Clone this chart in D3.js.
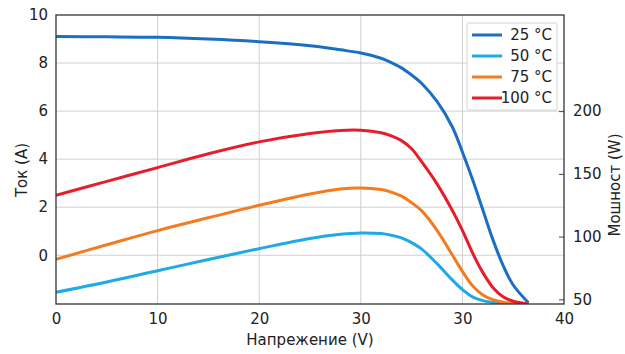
<!DOCTYPE html>
<html lang="ru">
<head>
<meta charset="utf-8">
<title>I-V / P-V</title>
<script src="https://cdn.jsdelivr.net/npm/d3@7"></script>
<style>
  body { margin: 0; background: #fff; }
  text { font-family: "DejaVu Sans", sans-serif; fill: #222; }
</style>
</head>
<body>
<script>
// voltage grid (underlying x units)
var volts = [0, 5, 10, 15, 20, 25, 28, 30, 32, 33, 34, 35, 36, 37.5, 39, 40, 41, 42, 43, 44, 45, 46.5];

// 25 °C - current, left axis (A)
var current25 = [9.1, 9.09, 9.07, 9.0, 8.89, 8.72, 8.55, 8.42, 8.2, 8.02, 7.8, 7.5, 7.15, 6.4, 5.35, 4.3, 3.15, 1.9, 0.65, -0.42, -1.24, -1.98];
// 50/75/100 °C - power, right axis (W)
var power50  = [55.6, 63.8, 72.8, 81.8, 90.4, 98.5, 101.8, 102.9, 102.4, 101.1, 99, 95.2, 90, 78.5, 65.5, 57.8, 52, 49, 47.5, 46.8, 46.4, 46.3];
var power75  = [81.9, 93.5, 104.8, 115, 125, 134, 138, 138.8, 137.5, 135.5, 132.3, 127, 120.5, 105, 85.5, 72.3, 60.8, 53.5, 49.8, 47.8, 47, 46.3];
var power100 = [133, 144, 155, 166, 175.5, 182.2, 184.6, 184.8, 182.8, 180.3, 176.5, 170, 159.5, 142, 121, 105, 87, 71.5, 59.5, 52, 48.5, 46.3];

var xTickValues = [0, 10, 20, 30, 40, 50];
var xTickLabels = ["0", "10", "20", "30", "30", "40"];
var leftTicks = [0, 2, 4, 6, 8, 10];
var rightTicks = [50, 100, 150, 200];
var legendLabels = ["25 °C", "50 °C", "75 °C", "100 °C"];
var colors = ["#1b6fc2", "#1fa9e6", "#f47b20", "#e61e2b"];

var w = 625, h = 354;
var m = {left: 56, right: 61, top: 15, bottom: 50};

var svg = d3.select("body").append("svg")
  .attr("width", w).attr("height", h);

var xScale = d3.scaleLinear().domain([0, 50]).range([m.left, w - m.right]);
var yLeft = d3.scaleLinear().domain([-2.03, 10]).range([h - m.bottom, m.top]);
var yRight = d3.scaleLinear().domain([46.3, 276.6]).range([h - m.bottom, m.top]);

var x0 = m.left, x1 = w - m.right, y0 = h - m.bottom, y1 = m.top;

// grid
svg.append("g").selectAll("line").data(xTickValues.slice(1, -1)).enter()
  .append("line")
  .attr("x1", d => xScale(d)).attr("x2", d => xScale(d))
  .attr("y1", y0).attr("y2", y1)
  .attr("stroke", "#cfcfcf").attr("stroke-width", 1);
svg.append("g").selectAll("line").data(leftTicks.slice(0, -1)).enter()
  .append("line")
  .attr("x1", x0).attr("x2", x1)
  .attr("y1", d => yLeft(d)).attr("y2", d => yLeft(d))
  .attr("stroke", "#cfcfcf").attr("stroke-width", 1);

// curves
svg.append("clipPath").attr("id", "plot")
  .append("rect").attr("x", x0).attr("y", y1).attr("width", x1 - x0).attr("height", y0 - y1);

var series = [
  {vals: current25, y: yLeft},
  {vals: power50, y: yRight},
  {vals: power75, y: yRight},
  {vals: power100, y: yRight}
];

var curves = svg.append("g").attr("clip-path", "url(#plot)");
series.forEach(function(s, i) {
  var line = d3.line()
    .x((d, j) => xScale(volts[j]))
    .y(d => s.y(d))
    .curve(d3.curveCatmullRom.alpha(0.5));
  curves.append("path")
    .attr("d", line(s.vals))
    .attr("fill", "none")
    .attr("stroke", colors[i])
    .attr("stroke-width", 3);
});

// axes
var xAxis = d3.axisBottom(xScale)
  .tickValues(xTickValues)
  .tickSize(0)
  .tickPadding(9)
  .tickFormat((d, i) => xTickLabels[i]);
var gx = svg.append("g").attr("transform", `translate(0,${y0})`).call(xAxis);

var yAxisL = d3.axisLeft(yLeft).tickValues(leftTicks).tickSize(0).tickPadding(8);
var gl = svg.append("g").attr("transform", `translate(${x0},0)`).call(yAxisL);

var yAxisR = d3.axisRight(yRight).tickValues(rightTicks).tickSize(-5).tickPadding(9);
var gr = svg.append("g").attr("transform", `translate(${x1},0)`).call(yAxisR);

[gx, gl, gr].forEach(function(g) {
  g.selectAll(".domain").remove();
  g.selectAll("text").style("font-size", "15px").style("font-family", "DejaVu Sans, sans-serif").attr("fill", "#222");
  g.selectAll("line").attr("stroke", "#444");
});

// frame
svg.append("rect")
  .attr("x", x0).attr("y", y1).attr("width", x1 - x0).attr("height", y0 - y1)
  .attr("fill", "none").attr("stroke", "#333").attr("stroke-width", 1.3);

// titles
svg.append("text")
  .attr("x", (x0 + x1) / 2).attr("y", 345)
  .attr("text-anchor", "middle").style("font-size", "15px")
  .text("Напрежение (V)");
svg.append("text")
  .attr("transform", "translate(27,170) rotate(-90)")
  .attr("text-anchor", "middle").style("font-size", "15px")
  .text("Ток (A)");
svg.append("text")
  .attr("transform", "translate(620,185) rotate(-90)")
  .attr("text-anchor", "middle").style("font-size", "15px")
  .text("Мошност (W)");

// legend
var lg = svg.append("g");
lg.append("rect")
  .attr("x", 467).attr("y", 23).attr("width", 90).attr("height", 87)
  .attr("fill", "#fff").attr("fill-opacity", 0.9)
  .attr("stroke", "#d4d4d4").attr("rx", 2);
legendLabels.forEach(function(lab, i) {
  var yy = 35 + i * 21;
  lg.append("line")
    .attr("x1", 472).attr("x2", 502).attr("y1", yy).attr("y2", yy)
    .attr("stroke", colors[i]).attr("stroke-width", 3);
  lg.append("text")
    .attr("x", 552).attr("y", yy + 5)
    .attr("text-anchor", "end").style("font-size", "15px")
    .text(lab);
});
</script>
</body>
</html>
